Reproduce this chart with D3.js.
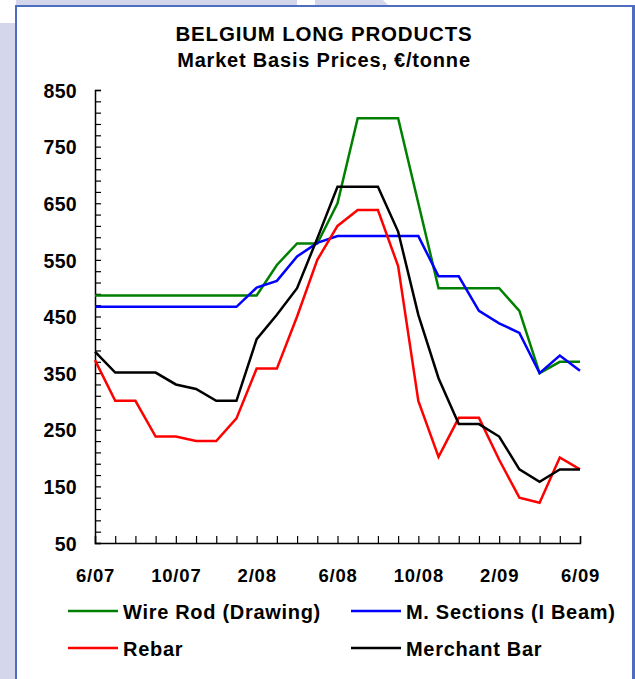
<!DOCTYPE html>
<html>
<head>
<meta charset="utf-8">
<script src="https://cdn.jsdelivr.net/npm/d3@7"></script>
<style>
  body { margin: 0; background: #fff; }
  svg { display: block; }
  text { font-family: "Liberation Sans", Arial, sans-serif; font-weight: bold; fill: #000; }
</style>
</head>
<body>
<svg id="chart" width="635" height="679"></svg>
<script>
// Monthly observations, June 2007 to June 2009
const months = ["6/07","7/07","8/07","9/07","10/07","11/07","12/07","1/08","2/08","3/08","4/08","5/08",
                "6/08","7/08","8/08","9/08","10/08","11/08","12/08","1/09","2/09","3/09","4/09","5/09","6/09"];
const monthTicks = ["6/07","10/07","2/08","6/08","10/08","2/09","6/09"];
const priceTicks = [50,150,250,350,450,550,650,750,850];

// Market basis prices, EUR/tonne
const wireRod  = [487,487,487,487,487,487,487,487,487,541,579,579,650,800,800,800,650,500,500,500,500,460,350,370,370];
const sections = [467,467,467,467,467,467,467,467,501,513,556,580,592,592,592,592,592,521,521,460,438,421,350,381,354];
const rebar    = [373,301,301,238,238,230,230,270,358,358,450,550,610,638,638,539,301,202,271,271,197,130,121,201,180];
const merchant = [388,351,351,351,330,322,301,301,410,453,500,588,679,679,679,600,453,341,260,260,238,180,158,180,180];

const series = [
  { name: "Wire Rod (Drawing)",   values: wireRod,  color: "#008000" },
  { name: "M. Sections (I Beam)", values: sections, color: "#0000ff" },
  { name: "Rebar",                values: rebar,    color: "#ff0000" },
  { name: "Merchant Bar",         values: merchant, color: "#000000" }
];

const svg = d3.select("#chart");

// page backdrop and framed panel
const lav = "#d4d7ec", frame = "#4d6dc0";
svg.append("rect").attr("x", 0).attr("y", 23).attr("width", 16).attr("height", 656).attr("fill", lav);
svg.append("polygon").attr("points", "16,0 297,0 297,5 16,5").attr("fill", lav);
svg.append("polygon").attr("points", "297,0 306,5 315,0").attr("fill", "#fff");
svg.append("polygon").attr("points", "315,0 383,0 388,5 315,5").attr("fill", lav);
svg.append("rect").attr("x", 16).attr("y", 6).attr("width", 617).attr("height", 680).attr("fill", "#fff");
svg.append("line").attr("x1", 16).attr("x2", 16).attr("y1", 5).attr("y2", 679).attr("stroke", frame).attr("stroke-width", 2);
svg.append("line").attr("x1", 15).attr("x2", 635).attr("y1", 6).attr("y2", 6).attr("stroke", frame).attr("stroke-width", 2);
svg.append("line").attr("x1", 633.5).attr("x2", 633.5).attr("y1", 5).attr("y2", 679).attr("stroke", frame).attr("stroke-width", 3);

// titles
svg.append("text").attr("x", 324).attr("y", 41).attr("text-anchor", "middle")
  .style("font-size", "20.5px").style("letter-spacing", "0.8px").text("BELGIUM LONG PRODUCTS");
svg.append("text").attr("x", 324).attr("y", 67).attr("text-anchor", "middle")
  .style("font-size", "20px").style("letter-spacing", "0.8px").text("Market Basis Prices, €/tonne");

// scales
const x = d3.scalePoint().domain(months).range([95, 580]).padding(0);
const y = d3.scaleLinear().domain([50, 850]).range([543, 90]);

// y axis: minor ticks every 20, labels every 100
const yAxis = svg.append("g").attr("transform", "translate(95,0)")
  .call(d3.axisLeft(y).tickValues(d3.range(50, 851, 20)).tickSize(-6).tickPadding(18)
    .tickFormat(d => priceTicks.includes(d) ? d : ""));
yAxis.select(".domain").attr("stroke", "#000").attr("stroke-width", 1.5);
yAxis.selectAll(".tick line").attr("stroke", "#000").attr("stroke-width", 1.2);
yAxis.selectAll(".tick text").style("font-size", "19.5px").style("letter-spacing", "0.3px")
  .attr("dy", "0.37em");

// x axis: a tick each month, labels every fourth month
const xAxis = svg.append("g").attr("transform", "translate(0,543)")
  .call(d3.axisBottom(x).tickValues(months).tickSize(-7).tickPadding(0)
    .tickFormat(d => monthTicks.includes(d) ? d : ""));
xAxis.select(".domain").attr("stroke", "#000").attr("stroke-width", 1.5);
xAxis.selectAll(".tick line").attr("stroke", "#000").attr("stroke-width", 1.2);
xAxis.selectAll(".tick text").style("font-size", "18.5px").style("letter-spacing", "0.8px")
  .attr("y", 39).attr("dy", null);
svg.selectAll(".tick text").attr("font-family", null).attr("font-size", null);

// price lines
const line = d3.line().x((d, i) => x(months[i])).y(d => y(d));
svg.append("g").selectAll("path").data(series).join("path")
  .attr("d", d => line(d.values))
  .attr("fill", "none")
  .attr("stroke", d => d.color)
  .attr("stroke-width", 2.5)
  .attr("stroke-linejoin", "miter");

// legend, two columns by two rows
const legendPos = [[68, 611], [351, 611], [68, 648], [351, 648]];
const legend = svg.append("g").selectAll("g").data(series).join("g")
  .attr("transform", (d, i) => `translate(${legendPos[i][0]},${legendPos[i][1]})`);
legend.append("line").attr("x1", 0).attr("x2", 50).attr("y1", 0).attr("y2", 0)
  .attr("stroke", d => d.color).attr("stroke-width", 2.5);
legend.append("text").attr("x", 55).attr("y", 7.5)
  .style("font-size", "20px").style("letter-spacing", "0.7px").text(d => d.name);
</script>
</body>
</html>
